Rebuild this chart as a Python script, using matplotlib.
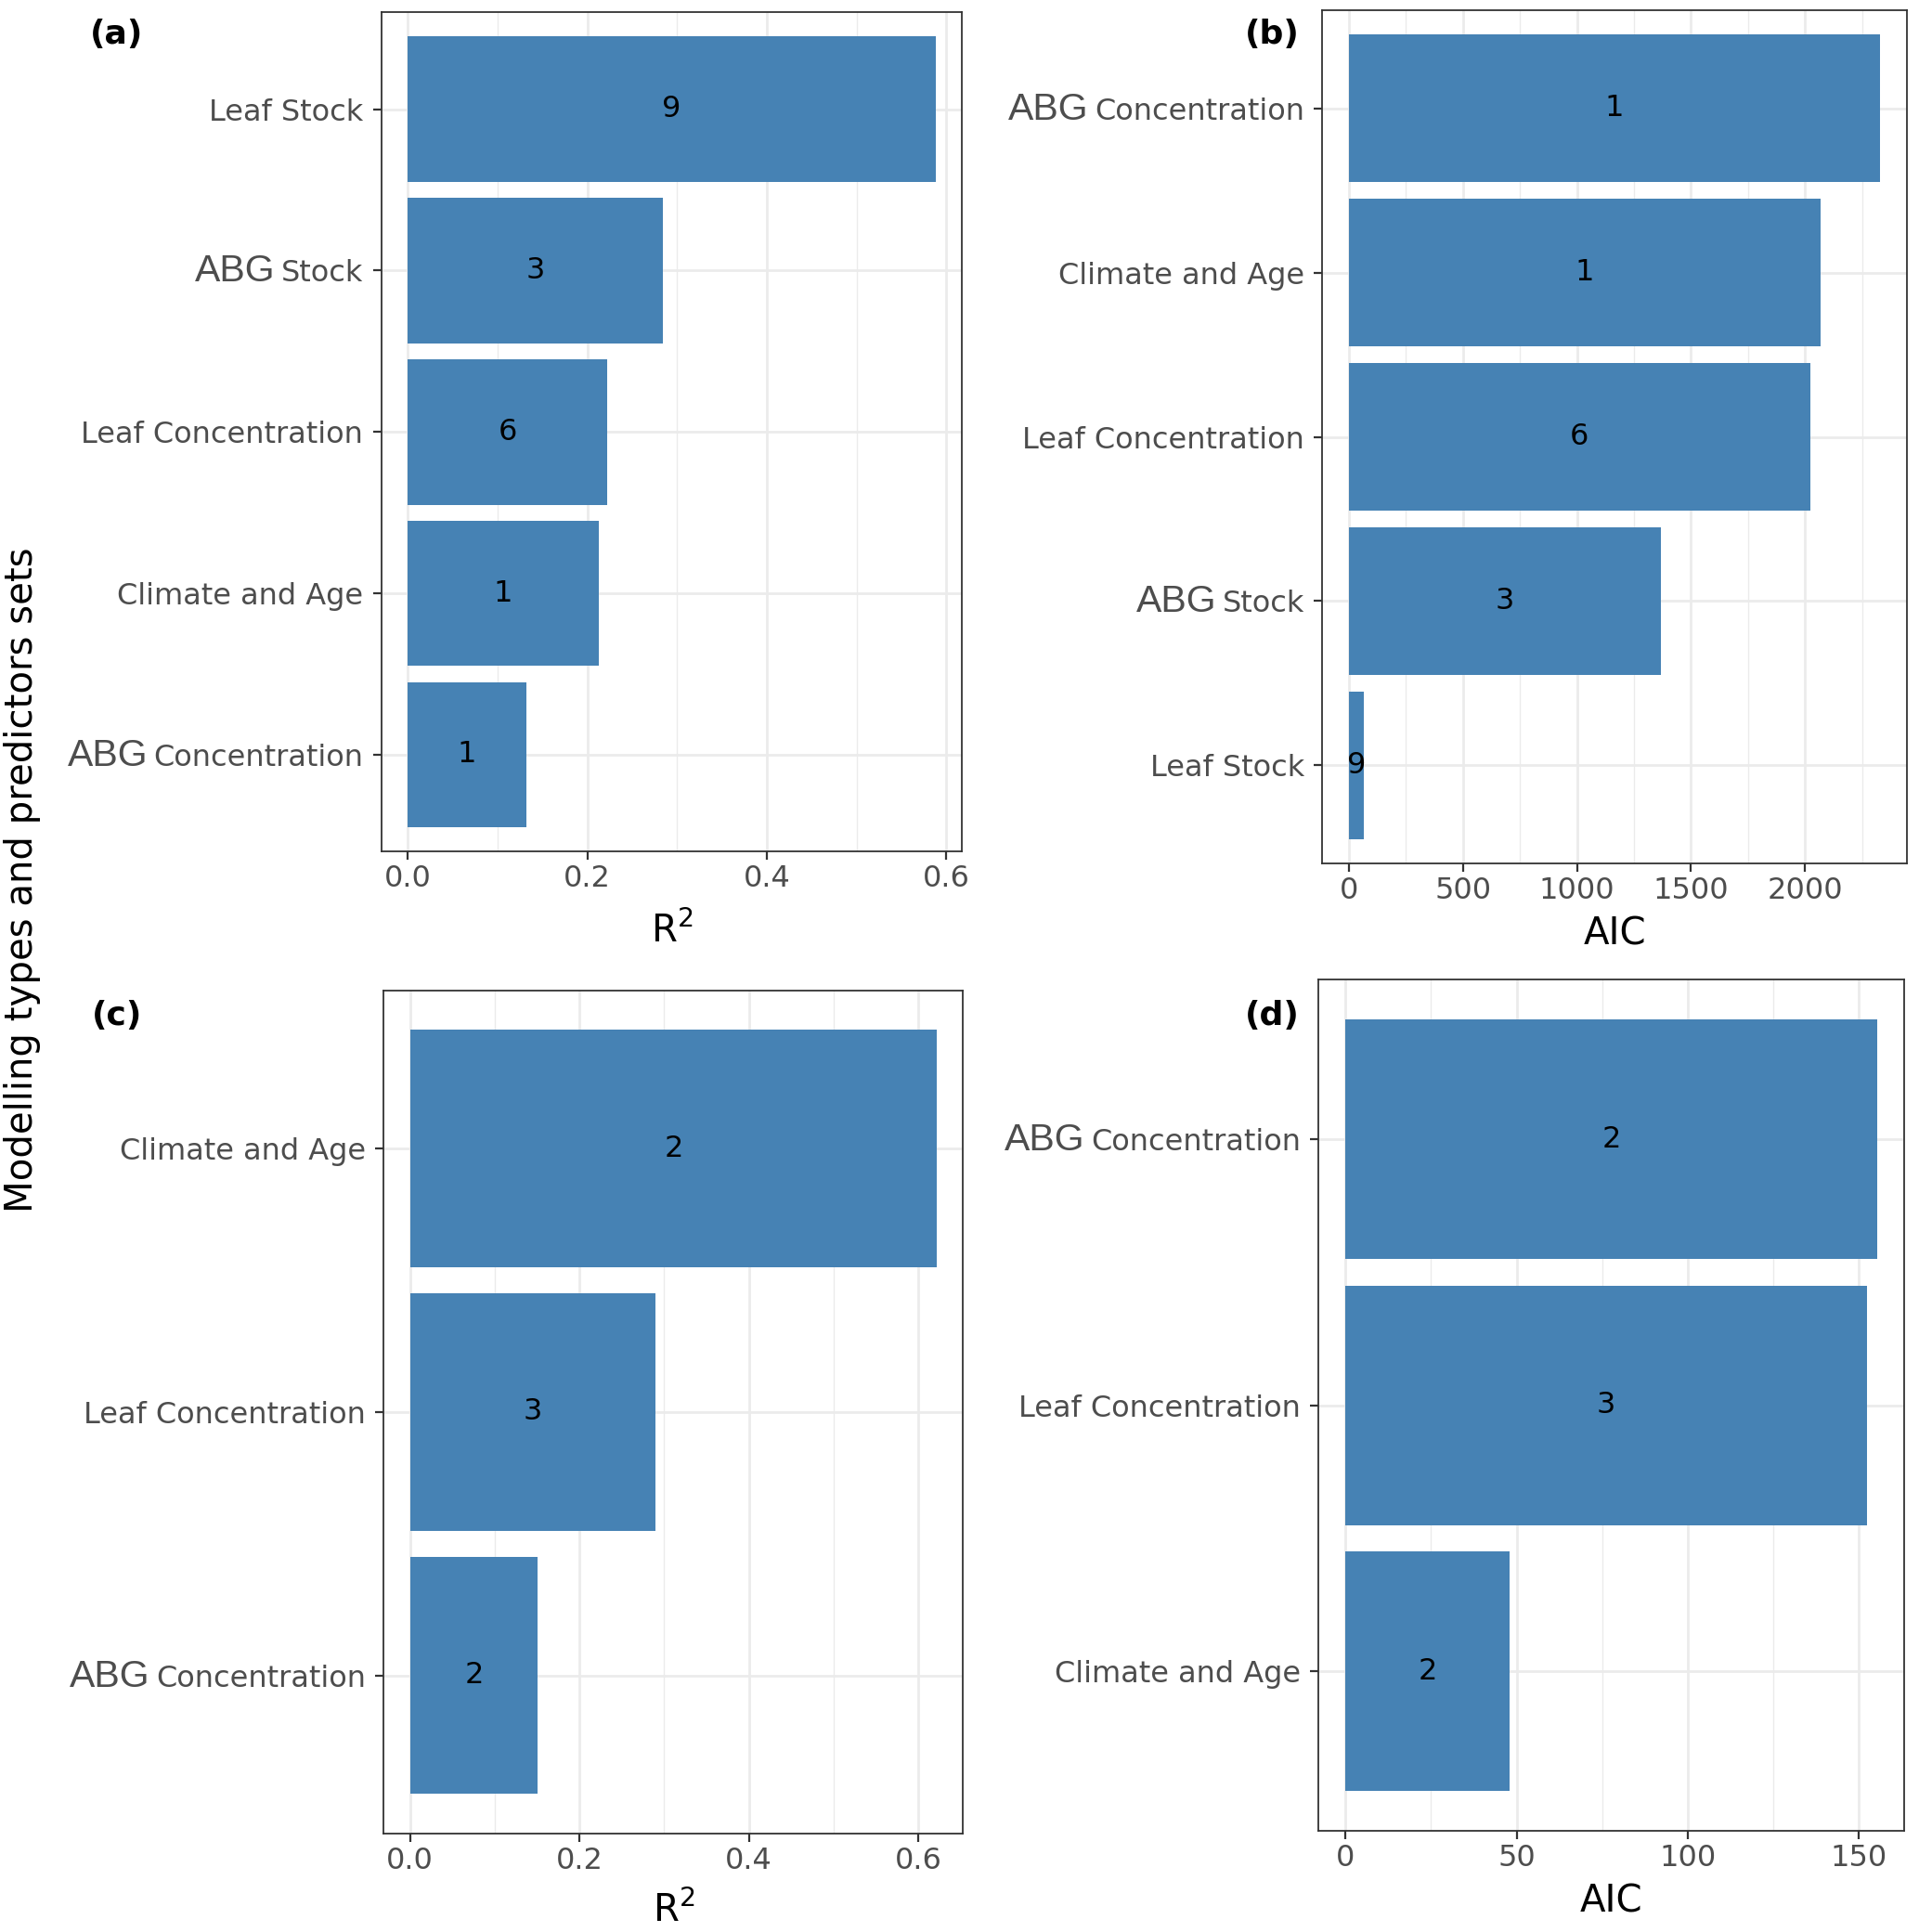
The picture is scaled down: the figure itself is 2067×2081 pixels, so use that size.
import matplotlib
matplotlib.use("Agg")
import matplotlib.pyplot as plt
from matplotlib.transforms import IdentityTransform

# panel data, listed top to bottom as drawn
cats_a = ["Leaf Stock", "ABG Stock", "Leaf Concentration", "Climate and Age", "ABG Concentration"]
r2_a = [0.588, 0.284, 0.222, 0.213, 0.132]
n_a = [9, 3, 6, 1, 1]

cats_b = ["ABG Concentration", "Climate and Age", "Leaf Concentration", "ABG Stock", "Leaf Stock"]
aic_b = [2330, 2070, 2022, 1368, 65]
n_b = [1, 1, 6, 3, 9]

cats_c = ["Climate and Age", "Leaf Concentration", "ABG Concentration"]
r2_c = [0.622, 0.290, 0.151]
n_c = [2, 3, 2]

cats_d = ["ABG Concentration", "Leaf Concentration", "Climate and Age"]
aic_d = [155.4, 152.2, 48.0]
n_d = [2, 3, 2]

BAR = "#4682B4"
GRID = "#EBEBEB"
TXT = "#4D4D4D"
DARK = "#333333"

fig = plt.figure(figsize=(20.67, 20.81), dpi=100)

boxes = {
    "a": [0.1987, 0.5592, 0.5013 - 0.1987, 0.9936 - 0.5592],
    "b": [0.6891, 0.5529, 0.9936 - 0.6891, 0.9949 - 0.5529],
    "c": [0.2000, 0.0510, 0.5019 - 0.2000, 0.4873 - 0.0510],
    "d": [0.6872, 0.0522, 0.9923 - 0.6872, 0.4930 - 0.0522],
}


def panel(key, cats, vals, counts, major, minor, xlabel, fmt, lpad):
    ax = fig.add_axes(boxes[key])
    n = len(cats)
    pos = list(range(n, 0, -1))
    labels = [c[4:] if c.startswith("ABG ") else c for c in cats]
    ax.barh(pos, vals, height=0.9, color=BAR, zorder=2)
    for p, v, c in zip(pos, vals, counts):
        ax.text(v / 2, p, str(c), ha="center", va="center", fontsize=23, color="black", zorder=3)
    vmax = max(vals)
    ax.set_xlim(-0.05 * vmax, 1.05 * vmax)
    ax.set_ylim(0.4, n + 0.6)
    ax.set_yticks(pos)
    ax.set_yticklabels(labels)
    ax.set_xticks(major)
    ax.set_xticklabels([fmt(m) for m in major])
    ax.set_xticks(minor, minor=True)
    ax.tick_params(axis="x", which="minor", length=0)
    ax.grid(True, which="major", color=GRID, linewidth=2.0, zorder=0)
    ax.grid(True, which="minor", axis="x", color=GRID, linewidth=1.0, zorder=0)
    ax.set_axisbelow(True)
    ax.tick_params(axis="both", which="major", length=6.5, width=1.6, color=DARK,
                   labelsize=23, labelcolor=TXT, pad=3.5)
    ax.tick_params(axis="y", which="major", pad=7.5)
    for s in ax.spines.values():
        s.set_color(DARK)
        s.set_linewidth(1.3)
    ax.set_xlabel(xlabel, fontsize=29, color="black", labelpad=lpad)
    return ax, cats


axes = []
axes.append(panel("a", cats_a, r2_a, n_a, [0, 0.2, 0.4, 0.6], [0.1, 0.3, 0.5], r"R$^2$",
                  lambda v: f"{v:.1f}", 15))
axes.append(panel("b", cats_b, aic_b, n_b, [0, 500, 1000, 1500, 2000], [250, 750, 1250, 1750, 2250],
                  "AIC", lambda v: f"{v:d}", 8))
axes.append(panel("c", cats_c, r2_c, n_c, [0, 0.2, 0.4, 0.6], [0.1, 0.3, 0.5], r"R$^2$",
                  lambda v: f"{v:.1f}", 13))
axes.append(panel("d", cats_d, aic_d, n_d, [0, 50, 100, 150], [25, 75, 125],
                  "AIC", lambda v: f"{v:d}", 8))

fig.text(0.0115, 0.5446, "Modelling types and predictors sets", rotation=90,
         ha="center", va="center", fontsize=29, color="black")

for lab, x, y in [("(a)", 0.0609, 0.982), ("(b)", 0.663, 0.982),
                  ("(c)", 0.0609, 0.4745), ("(d)", 0.663, 0.4745)]:
    fig.text(x, y, lab, ha="center", va="center", fontsize=26, fontweight="bold")

# draw the larger "ABG" prefix in front of the tick labels
fig.canvas.draw()
renderer = fig.canvas.get_renderer()
for ax, cats in axes:
    for c, t in zip(cats, ax.get_yticklabels()):
        if not c.startswith("ABG "):
            continue
        bb = t.get_window_extent(renderer)
        _, _, d = renderer.get_text_width_height_descent("lp", t.get_fontproperties(), ismath=False)
        base = bb.y0 + d
        fig.text(bb.x0 - 6, base, "ABG", ha="right", va="baseline",
                 transform=IdentityTransform(), fontsize=29.5, color=TXT,
                 family="Liberation Sans")

fig.savefig("out.png", dpi=100)
